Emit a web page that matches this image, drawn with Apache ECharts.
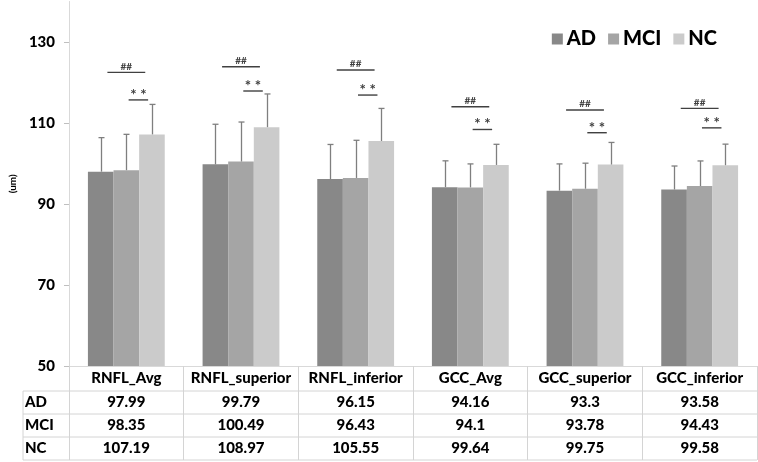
<!DOCTYPE html>
<html><head><meta charset="utf-8">
<script src="https://cdn.jsdelivr.net/npm/echarts@6/dist/echarts.min.js"></script>
<style>html,body{margin:0;padding:0;background:#fff}#c{width:758px;height:462px}</style>
</head><body><div id="c"></div>
<script>
const categories = ['RNFL_Avg','RNFL_superior','RNFL_inferior','GCC_Avg','GCC_superior','GCC_inferior'];
const groupNames = ['AD','MCI','NC'];
const adValues = [97.99,99.79,96.15,94.16,93.3,93.58];
const mciValues = [98.35,100.49,96.43,94.1,93.78,94.43];
const ncValues = [107.19,108.97,105.55,99.64,99.75,99.58];
const adSD = [8.4,9.9,8.55,6.5,6.6,5.8];
const mciSD = [8.85,9.75,9.3,5.8,6.3,6.2];
const ncSD = [7.4,8.2,8.05,5.1,5.45,5.2];
const hashLevels = [122.5,123.9,123.1,114.0,113.2,113.6];
const starLevels = [115.7,117.9,116.9,108.4,107.6,108.8];
const yMin = 50, yMax = 140, yStep = 20;

const colors = ['#888888','#a5a5a5','#cbcbcb'];
const FONT = 'Lato';
const W = 900;
const values = [adValues, mciValues, ncValues];
const sds = [adSD, mciSD, ncSD];
const GAP = 0.33;

const errData = [];
values.forEach((arr, si) => arr.forEach((v, ci) => errData.push([ci, v, sds[si][ci], si])));
const sigData = categories.map((c, i) => [i, hashLevels[i], starLevels[i]]);

const chart = echarts.init(document.getElementById('c'), null, {renderer:'canvas'});
const option = {
  animation: false,
  color: colors,
  legend: {
    data: groupNames, right: 36, top: 24, itemWidth: 11, itemHeight: 11, itemGap: 12,
    icon: 'rect',
    textStyle: {fontFamily: FONT, fontWeight: W, fontSize: 20, color: '#000', padding:[0,0,0,-1]}
  },
  grid: {left: 54, right: 1, top: 1.5, bottom: 96, containLabel: false},
  xAxis: {
    type: 'category', data: categories,
    axisLine: {lineStyle: {color: '#d9d9d9', width: 1}},
    axisTick: {show: true, length: 94, lineStyle: {color: '#d4d4d4'}},
    axisLabel: {
      margin: 1, interval: 0, fontFamily: FONT, fontWeight: W, fontSize: 15, color: '#000',
      lineHeight: 23.3,
      formatter: (v, i) => [v, adValues[i], mciValues[i], ncValues[i]].join('\n')
    }
  },
  yAxis: {
    type: 'value', min: yMin, max: yMax, interval: yStep,
    name: '(um)', nameLocation: 'middle', nameGap: 45, nameRotate: 90,
    nameTextStyle: {fontFamily: FONT, fontSize: 10, fontWeight: 'bold', color: '#000'},
    axisLine: {show: true, lineStyle: {color: '#d9d9d9'}},
    axisTick: {show: true, length: 5, lineStyle: {color: '#bfbfbf'}},
    splitLine: {show: false},
    axisLabel: {fontFamily: FONT, fontWeight: W, fontSize: 15, color: '#000', margin: 14, showMaxLabel: false}
  },
  graphic: [
    {type:'line', shape:{x1:23,y1:391,x2:757,y2:391}, style:{stroke:'#d4d4d4', lineWidth:1}},
    {type:'line', shape:{x1:23,y1:414,x2:757,y2:414}, style:{stroke:'#d4d4d4', lineWidth:1}},
    {type:'line', shape:{x1:23,y1:437,x2:757,y2:437}, style:{stroke:'#d4d4d4', lineWidth:1}},
    {type:'line', shape:{x1:23,y1:460,x2:757,y2:460}, style:{stroke:'#d4d4d4', lineWidth:1}},
    {type:'line', shape:{x1:23,y1:391,x2:23,y2:460}, style:{stroke:'#d4d4d4', lineWidth:1}},
    {type:'text', left:25, top:395, style:{text: groupNames[0], font: W + ' 15px '+FONT, fill:'#000'}},
    {type:'text', left:25, top:418, style:{text: groupNames[1], font: W + ' 15px '+FONT, fill:'#000'}},
    {type:'text', left:25, top:441, style:{text: groupNames[2], font: W + ' 15px '+FONT, fill:'#000'}}
  ],
  series: [
    ...groupNames.map((n, si) => ({
      name: n, type: 'bar', data: values[si], barGap: 0, barCategoryGap: (GAP*100)+'%',
      itemStyle: {color: colors[si]}, z: 2
    })),
    {
      type: 'custom', z: 3, data: errData, encode: {x: 0, y: 1},
      renderItem: (params, api) => {
        const ci = api.value(0), m = api.value(1), sd = api.value(2), si = api.value(3);
        const b = api.coord([ci, m]);
        const t = api.coord([ci, m + sd]);
        const band = api.size([1, 0])[0];
        const bw = band * (1 - GAP) / 3;
        const x = Math.round(b[0] + (si - 1) * bw) + 0.5;
        return {type: 'group', children: [
          {type: 'line', shape: {x1: x, y1: b[1], x2: x, y2: t[1]}, style: {stroke: '#7f7f7f', lineWidth: 1.3}},
          {type: 'line', shape: {x1: x - 3, y1: t[1], x2: x + 3, y2: t[1]}, style: {stroke: '#7f7f7f', lineWidth: 1.3}}
        ]};
      }
    },
    {
      type: 'custom', z: 4, data: sigData, encode: {x: 0, y: 1},
      renderItem: (params, api) => {
        const ci = api.value(0);
        const h = api.coord([ci, api.value(1)]);
        const s = api.coord([ci, api.value(2)]);
        const band = api.size([1, 0])[0];
        const hx1 = h[0] - band * 0.165, hx2 = h[0] + band * 0.165;
        const sx1 = s[0] + band * 0.02, sx2 = s[0] + band * 0.19;
        return {type: 'group', children: [
          {type: 'line', shape: {x1: hx1, y1: h[1], x2: hx2, y2: h[1]}, style: {stroke: '#404040', lineWidth: 1.4}},
          {type: 'text', x: h[0], y: h[1] - 6, style: {text: '##', font: 'bold 10px ' + FONT, fill: '#404040', align: 'center', verticalAlign: 'middle'}},
          {type: 'line', shape: {x1: sx1, y1: s[1], x2: sx2, y2: s[1]}, style: {stroke: '#404040', lineWidth: 1.4}},
          {type: 'text', x: (sx1 + sx2) / 2, y: s[1] - 5, style: {text: '* *', font: 'bold 15px ' + FONT, fill: '#404040', align: 'center', verticalAlign: 'middle'}}
        ]};
      }
    }
  ]
};
chart.setOption(option);
</script></body></html>
